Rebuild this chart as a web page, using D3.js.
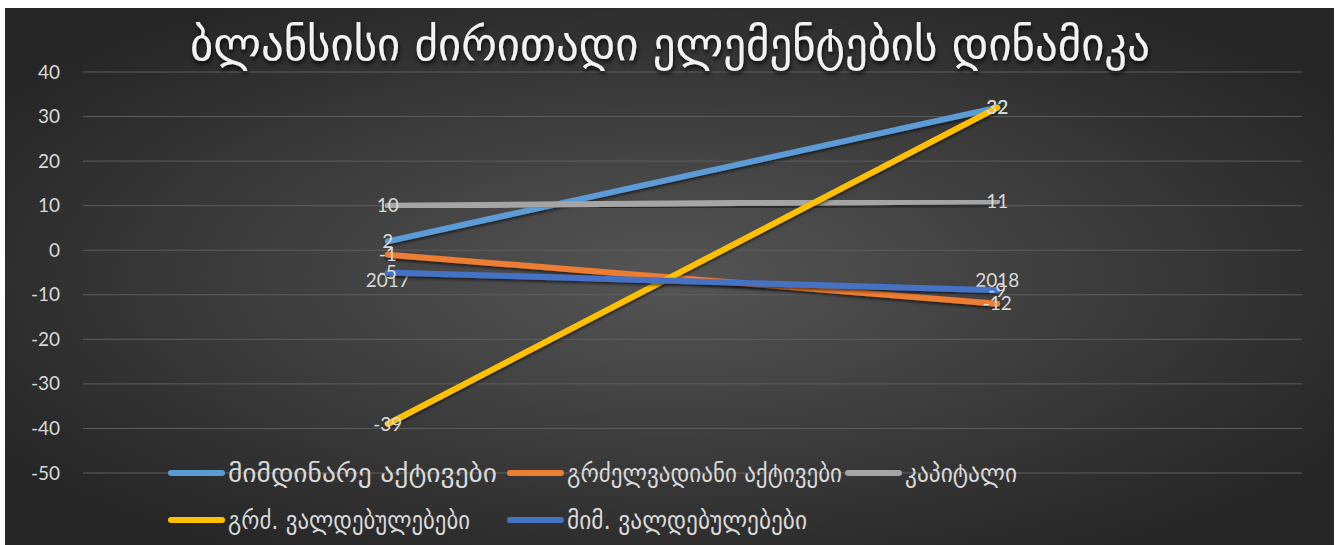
<!DOCTYPE html>
<html><head><meta charset="utf-8">
<script src="https://cdn.jsdelivr.net/npm/d3@7"></script>
<style>
html,body{margin:0;padding:0;background:#fff;}
svg{display:block;}
</style></head>
<body>
<script>
const title = "ბლანსისი ძირითადი ელემენტების დინამიკა";
const categories = ["2017", "2018"];
const seriesNames = ["მიმდინარე აქტივები", "გრძელვადიანი აქტივები", "კაპიტალი", "გრძ. ვალდებულებები", "მიმ. ვალდებულებები"];
const currentAssets = [2, 32];
const longTermAssets = [-1, -12];
const capital = [10, 11];
const longTermLiabilities = [-39, 32];
const currentLiabilities = [-5, -9];
const yTicks = [40, 30, 20, 10, 0, -10, -20, -30, -40, -50];
const colors = ["#5B9BD5", "#ED7D31", "#A5A5A5", "#FFC000", "#4472C4"];

const series = [currentAssets, longTermAssets, capital, longTermLiabilities, currentLiabilities]
  .map((v, i) => ({name: seriesNames[i], values: v, color: colors[i]}));

const W = 1341, H = 545;
const svg = d3.select("body").append("svg").attr("width", W).attr("height", H);
const defs = svg.append("defs");
const rg = defs.append("radialGradient").attr("id", "bg").attr("cx", "50%").attr("cy", "50%").attr("r", "60%");
rg.append("stop").attr("offset", "0%").attr("stop-color", "#555555");
rg.append("stop").attr("offset", "100%").attr("stop-color", "#262626");
const sh = defs.append("filter").attr("id", "sh").attr("x", "-10%").attr("y", "-10%").attr("width", "120%").attr("height", "140%");
sh.append("feDropShadow").attr("dx", 0).attr("dy", 2).attr("stdDeviation", 1.5).attr("flood-color", "#000").attr("flood-opacity", 0.6);
const tsh = defs.append("filter").attr("id", "tsh").attr("x", "-10%").attr("y", "-20%").attr("width", "120%").attr("height", "150%");
tsh.append("feDropShadow").attr("dx", 1).attr("dy", 3).attr("stdDeviation", 2).attr("flood-color", "#000").attr("flood-opacity", 0.8);

svg.append("rect").attr("x", 5).attr("y", 8).attr("width", 1329).attr("height", 537).attr("fill", "url(#bg)");

const x = d3.scaleBand().domain(categories).range([83, 1302]).padding(0);
const y = d3.scaleLinear().domain([-50, 40]).range([473, 72]);
const numFont = "Lato, 'Open Sans', sans-serif";
const geoFont = "'DejaVu Sans', 'Noto Sans', sans-serif";

// gridlines
svg.append("g").selectAll("line").data(yTicks).join("line")
  .attr("x1", 83).attr("x2", 1302)
  .attr("y1", d => y(d)).attr("y2", d => y(d))
  .attr("stroke", "#5e5e5e").attr("stroke-width", 1);

// y axis
const yAxis = d3.axisLeft(y).tickValues(yTicks).tickSize(0).tickPadding(0).tickFormat(d => String(d));
const gy = svg.append("g").attr("transform", "translate(60,0)").call(yAxis);
gy.select(".domain").remove();
gy.selectAll("text").attr("fill", "#d9d9d9").attr("font-size", 19).attr("font-family", numFont);

// title
svg.append("text").attr("x", 670).attr("y", 60).attr("text-anchor", "middle")
  .attr("fill", "#f2f2f2").attr("font-size", 46).attr("font-family", geoFont)
  .attr("textLength", 960).attr("lengthAdjust", "spacingAndGlyphs")
  .attr("filter", "url(#tsh)").text(title);

const cx = d => x(d) + x.bandwidth() / 2;

// category labels (axis crosses at 0)
svg.append("g").selectAll("text").data(categories).join("text")
  .attr("x", d => cx(d)).attr("y", y(0) + 30).attr("dy", "0.35em").attr("text-anchor", "middle")
  .attr("fill", "#d9d9d9").attr("font-size", 19).attr("font-family", numFont)
  .text(d => d);

// lines
const line = d3.line().x((d, i) => cx(categories[i])).y(d => y(d));
svg.append("g").selectAll("path").data(series).join("path")
  .attr("d", s => line(s.values)).attr("fill", "none")
  .attr("stroke", s => s.color).attr("stroke-width", 6).attr("stroke-linecap", "round")
  .attr("filter", "url(#sh)");

// data labels
const lg = svg.append("g");
series.forEach(s => {
  lg.selectAll(null).data(s.values).join("text")
    .attr("x", (d, i) => cx(categories[i])).attr("y", d => y(d)).attr("dy", "0.35em")
    .attr("text-anchor", "middle").attr("fill", "#d9d9d9").attr("font-size", 19)
    .attr("font-family", numFont).text(d => d);
});

// legend
const legendPos = [[168, 473, 269], [507, 473, 275], [845, 473, 112], [168, 520, 242], [507, 520, 240]];
const leg = svg.append("g");
series.forEach((s, i) => {
  const [lx, ly, tw] = legendPos[i];
  leg.append("line").attr("x1", lx + 3).attr("x2", lx + 54).attr("y1", ly).attr("y2", ly)
    .attr("stroke", s.color).attr("stroke-width", 6).attr("stroke-linecap", "round");
  leg.append("text").attr("x", lx + 60).attr("y", ly).attr("dy", "0.35em")
    .attr("fill", "#d9d9d9").attr("font-size", 25).attr("font-family", geoFont)
    .attr("textLength", tw).attr("lengthAdjust", "spacingAndGlyphs")
    .text(s.name);
});
</script>
</body></html>
